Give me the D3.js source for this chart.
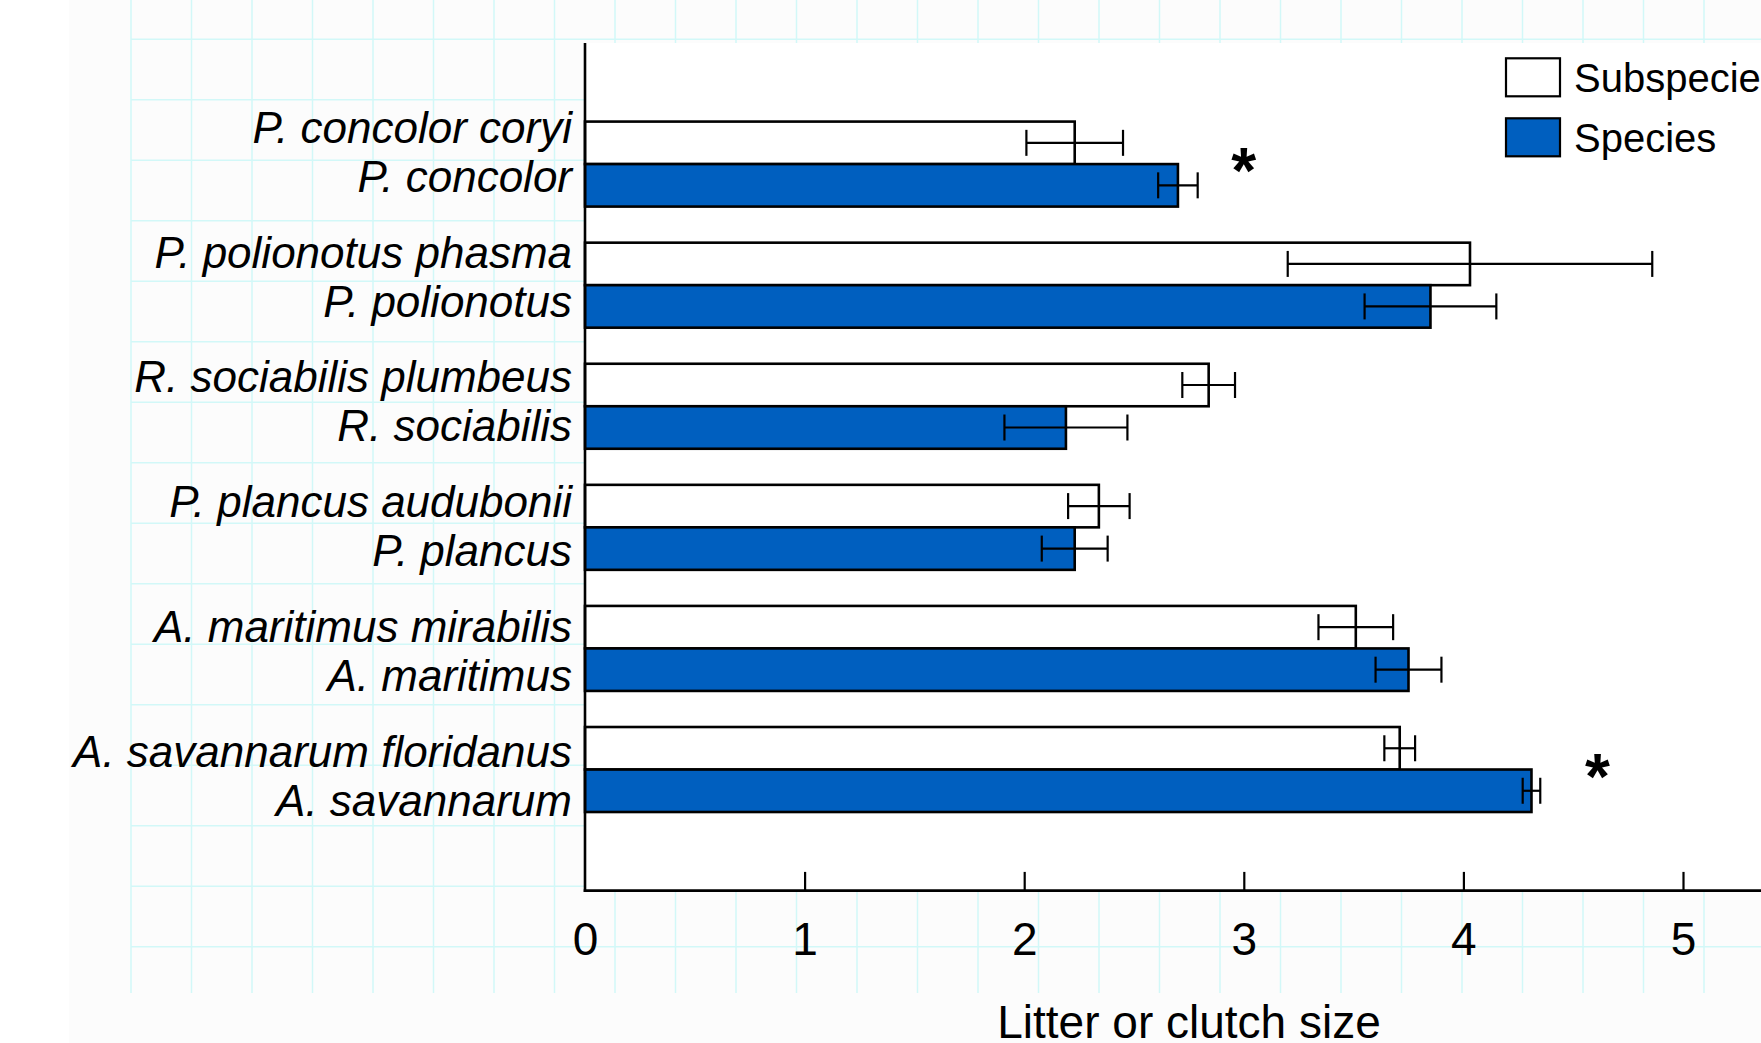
<!DOCTYPE html>
<html>
<head>
<meta charset="utf-8">
<script src="https://cdn.jsdelivr.net/npm/d3@7"></script>
<style>
  html, body { margin: 0; padding: 0; background: #ffffff; }
  svg { display: block; }
  text { font-family: "Liberation Sans", Arial, sans-serif; fill: #000; }
</style>
</head>
<body>
<svg id="chart" width="1761" height="1043"></svg>
<script>
// Paired comparison of litter / clutch size: subspecies vs. parent species
const groups = ["concolor", "polionotus", "sociabilis", "plancus", "maritimus", "savannarum"];
const subspeciesLabels = [
  "P. concolor coryi", "P. polionotus phasma", "R. sociabilis plumbeus",
  "P. plancus audubonii", "A. maritimus mirabilis", "A. savannarum floridanus"
];
const speciesLabels = [
  "P. concolor", "P. polionotus", "R. sociabilis",
  "P. plancus", "A. maritimus", "A. savannarum"
];
const subspeciesMean = [2.23, 4.03, 2.84, 2.34, 3.51, 3.71];
const subspeciesErr  = [0.22, 0.83, 0.12, 0.14, 0.17, 0.07];
const speciesMean    = [2.70, 3.85, 2.19, 2.23, 3.75, 4.31];
const speciesErr     = [0.09, 0.30, 0.28, 0.15, 0.15, 0.04];
// significant differences, marked with an asterisk
const sigGroups = ["concolor", "savannarum"];
const sigMarkX  = [3.0, 4.61];
const xTicks = [0, 1, 2, 3, 4, 5];
const legendItems = ["Subspecies", "Species"];
const xTitle = "Litter or clutch size";

const W = 1761, H = 1043;
const BLUE = "#005fbf";
const svg = d3.select("#chart");

// page background and the faint drafting grid
svg.append("rect").attr("x", 0).attr("y", 0).attr("width", W).attr("height", H).attr("fill", "#ffffff");
svg.append("rect").attr("x", 69).attr("y", 0).attr("width", W - 69).attr("height", H).attr("fill", "#fcfcfc");

const gridStep = 60.5, gridX0 = 131, gridY0 = 39.3, gridBottom = 993;
const grid = svg.append("g").attr("stroke", "#d2f8f8").attr("stroke-width", 1.5);
d3.range(gridX0, W + 1, gridStep).forEach(gx => {
  grid.append("line").attr("x1", gx).attr("x2", gx).attr("y1", 0).attr("y2", gridBottom);
});
d3.range(gridY0, gridBottom, gridStep).forEach(gy => {
  grid.append("line").attr("x1", gridX0).attr("x2", W).attr("y1", gy).attr("y2", gy);
});

// plot frame
const plot = { left: 585, top: 43, bottom: 890.6 };
svg.append("rect").attr("x", plot.left).attr("y", plot.top)
  .attr("width", W - plot.left).attr("height", plot.bottom - plot.top).attr("fill", "#ffffff");

const x = d3.scaleLinear().domain([0, 5]).range([plot.left, plot.left + 5 * 219.6]);
const y = d3.scalePoint().domain(groups).range([plot.top, plot.bottom]).padding(1);
const barH = 42.5;

// bars
const rows = groups.map((g, i) => ({
  g, sub: subspeciesMean[i], subE: subspeciesErr[i], sp: speciesMean[i], spE: speciesErr[i]
}));

const bars = svg.append("g").attr("stroke", "#000").attr("stroke-width", 2.6);
bars.selectAll("rect.sub").data(rows).join("rect").attr("class", "sub")
  .attr("x", x(0)).attr("y", d => y(d.g) - barH)
  .attr("width", d => x(d.sub) - x(0)).attr("height", barH)
  .attr("fill", "#ffffff");
bars.selectAll("rect.sp").data(rows).join("rect").attr("class", "sp")
  .attr("x", x(0)).attr("y", d => y(d.g))
  .attr("width", d => x(d.sp) - x(0)).attr("height", barH)
  .attr("fill", BLUE);

// error bars
const capH = 13;
const errs = svg.append("g").attr("stroke", "#000").attr("stroke-width", 2.2).attr("fill", "none");
function errorBar(v, e, cy) {
  errs.append("line").attr("x1", x(v - e)).attr("x2", x(v + e)).attr("y1", cy).attr("y2", cy);
  errs.append("line").attr("x1", x(v - e)).attr("x2", x(v - e)).attr("y1", cy - capH).attr("y2", cy + capH);
  errs.append("line").attr("x1", x(v + e)).attr("x2", x(v + e)).attr("y1", cy - capH).attr("y2", cy + capH);
}
rows.forEach(d => {
  errorBar(d.sub, d.subE, y(d.g) - barH / 2);
  errorBar(d.sp, d.spE, y(d.g) + barH / 2);
});

// significance marks
sigGroups.forEach((g, i) => {
  svg.append("text").attr("x", x(sigMarkX[i])).attr("y", y(g) + 29)
    .attr("text-anchor", "middle").attr("font-size", 64).attr("font-weight", "bold")
    .text("*");
});

// axes lines
svg.append("line").attr("x1", plot.left).attr("x2", plot.left).attr("y1", plot.top).attr("y2", plot.bottom + 1.3)
  .attr("stroke", "#000").attr("stroke-width", 2.6);
svg.append("line").attr("x1", plot.left - 1.3).attr("x2", W).attr("y1", plot.bottom).attr("y2", plot.bottom)
  .attr("stroke", "#000").attr("stroke-width", 2.6);

const xAxis = d3.axisBottom(x).tickValues(xTicks).tickFormat(d3.format("d"))
  .tickSizeInner(-18.7).tickSizeOuter(0).tickPadding(32);
const gx = svg.append("g").attr("transform", `translate(0,${plot.bottom})`).call(xAxis);
gx.select(".domain").remove();
gx.selectAll(".tick line").attr("stroke", "#000").attr("stroke-width", 2.2)
  .filter(d => d === 0).remove();
gx.selectAll(".tick text").attr("font-size", 46).attr("font-family", "Liberation Sans, Arial, sans-serif").attr("fill", "#000");

svg.append("text").attr("x", 1189).attr("y", 1038).attr("text-anchor", "middle")
  .attr("font-size", 46).text(xTitle);

// category labels
const labelY = d3.scalePoint().domain(groups).range([142.7, 766.7]);
const labelX = 572, lineGap = 49;
const labels = svg.append("g").attr("font-size", 44).attr("font-style", "italic").attr("text-anchor", "end");
groups.forEach((g, i) => {
  labels.append("text").attr("x", labelX).attr("y", labelY(g)).text(subspeciesLabels[i]);
  labels.append("text").attr("x", labelX).attr("y", labelY(g) + lineGap).text(speciesLabels[i]);
});

// legend
const legend = svg.append("g");
const legendFill = ["#ffffff", BLUE];
legendItems.forEach((name, i) => {
  const ly = 58.3 + i * 60;
  legend.append("rect").attr("x", 1506).attr("y", ly).attr("width", 54).attr("height", 38)
    .attr("fill", legendFill[i]).attr("stroke", "#000").attr("stroke-width", 2.2);
  legend.append("text").attr("x", 1574).attr("y", ly + 33.4).attr("font-size", 40).text(name);
});
</script>
</body>
</html>
